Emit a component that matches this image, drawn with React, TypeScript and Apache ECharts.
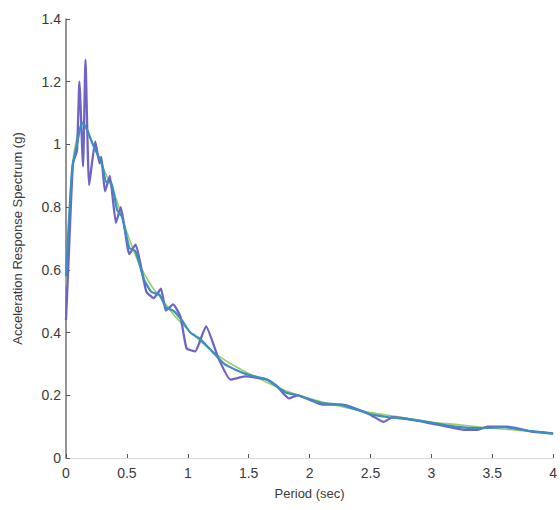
import React, { useEffect, useRef } from "react";
import * as echarts from "echarts";

// Recorded spectrum (noisy, purple)
const recordedT = [0, 0.02, 0.057, 0.09, 0.11, 0.14, 0.16, 0.19, 0.24, 0.275, 0.29, 0.32, 0.36, 0.41, 0.45, 0.52, 0.57, 0.66, 0.72, 0.78, 0.82, 0.88, 0.94, 0.99, 1.06, 1.15, 1.25, 1.35, 1.47, 1.65, 1.73, 1.83, 1.9, 2.11, 2.27, 2.49, 2.61, 2.68, 2.87, 3.13, 3.27, 3.38, 3.46, 3.62, 3.84, 4.0];
const recordedSa = [0.44, 0.62, 0.94, 0.98, 1.2, 0.93, 1.27, 0.87, 1.01, 0.94, 0.96, 0.85, 0.9, 0.75, 0.8, 0.65, 0.68, 0.53, 0.51, 0.54, 0.47, 0.49, 0.45, 0.35, 0.34, 0.42, 0.32, 0.25, 0.26, 0.25, 0.23, 0.19, 0.2, 0.17, 0.17, 0.14, 0.115, 0.13, 0.12, 0.1, 0.09, 0.09, 0.1, 0.1, 0.083, 0.078];

// Matched spectrum (teal)
const matchedT = [0, 0.05, 0.1, 0.13, 0.17, 0.22, 0.27, 0.3, 0.33, 0.37, 0.42, 0.46, 0.52, 0.57, 0.64, 0.7, 0.77, 0.82, 0.88, 0.95, 1.02, 1.1, 1.2, 1.3, 1.4, 1.5, 1.65, 1.8, 1.9, 2.1, 2.25, 2.5, 2.65, 2.8, 3.0, 3.2, 3.4, 3.6, 3.8, 4.0];
const matchedSa = [0.58, 0.92, 1.02, 1.07, 1.05, 1.0, 0.96, 0.93, 0.88, 0.88, 0.79, 0.77, 0.67, 0.66, 0.57, 0.53, 0.52, 0.48, 0.47, 0.44, 0.4, 0.38, 0.34, 0.3, 0.28, 0.265, 0.25, 0.21, 0.2, 0.175, 0.17, 0.14, 0.13, 0.125, 0.113, 0.1, 0.095, 0.098, 0.087, 0.078];

// Target (smooth, green)
const targetT = [0, 0.05, 0.1, 0.14, 0.2, 0.3, 0.4, 0.5, 0.6, 0.7, 0.8, 0.9, 1.0, 1.2, 1.4, 1.6, 1.8, 2.0, 2.25, 2.5, 2.75, 3.0, 3.25, 3.5, 3.75, 4.0];
const targetSa = [0.55, 0.92, 1.04, 1.07, 1.02, 0.93, 0.84, 0.72, 0.62, 0.55, 0.5, 0.45, 0.41, 0.34, 0.29, 0.25, 0.215, 0.19, 0.165, 0.145, 0.13, 0.115, 0.105, 0.095, 0.087, 0.08];

const xTicks = [0, 0.5, 1, 1.5, 2, 2.5, 3, 3.5, 4];
const yTicks = [0, 0.2, 0.4, 0.6, 0.8, 1, 1.2, 1.4];

const zip = (xs: number[], ys: number[]) => xs.map((x, i) => [x, ys[i]]);

export default function App() {
  const ref = useRef<HTMLDivElement>(null);
  useEffect(() => {
    if (!ref.current) return;
    const chart = echarts.init(ref.current, null, { renderer: "svg" });
    const font = "'Liberation Sans', Arial, Helvetica, sans-serif";
    chart.setOption({
      animation: false,
      backgroundColor: "#ffffff",
      textStyle: { fontFamily: font },
      grid: { left: 66, right: 0, top: 19, bottom: 52, containLabel: false },
      xAxis: {
        type: "value",
        min: xTicks[0],
        max: xTicks[xTicks.length - 1],
        interval: 0.5,
        name: "Period (sec)",
        nameLocation: "middle",
        nameGap: 29,
        nameTextStyle: { fontFamily: font, fontSize: 13, color: "#3a3a3a" },
        axisLine: { show: true, lineStyle: { color: "#d8d8d8", width: 1 } },
        axisTick: { show: true, inside: true, length: 4, lineStyle: { color: "#555" } },
        axisLabel: { fontFamily: font, fontSize: 14, color: "#3a3a3a", margin: 8 },
        splitLine: { show: false },
      },
      yAxis: {
        type: "value",
        min: yTicks[0],
        max: yTicks[yTicks.length - 1],
        interval: 0.2,
        name: "Acceleration Response Spectrum (g)",
        nameLocation: "middle",
        nameGap: 42,
        nameTextStyle: { fontFamily: font, fontSize: 13, color: "#3a3a3a" },
        axisLine: { show: true, lineStyle: { color: "#707070", width: 1.5 } },
        axisTick: { show: true, inside: true, length: 4, lineStyle: { color: "#555" } },
        axisLabel: { fontFamily: font, fontSize: 14, color: "#3a3a3a", margin: 5 },
        splitLine: { show: false },
      },
      series: [
        {
          type: "line",
          name: "Target",
          data: zip(targetT, targetSa),
          showSymbol: false,
          smooth: 0.3,
          lineStyle: { color: "#9ccc6a", width: 1.6 },
          z: 1,
        },
        {
          type: "line",
          name: "Recorded",
          data: zip(recordedT, recordedSa),
          showSymbol: false,
          smooth: 0.15,
          lineStyle: { color: "#6e64c4", width: 2.3 },
          z: 2,
        },
        {
          type: "line",
          name: "Matched",
          data: zip(matchedT, matchedSa),
          showSymbol: false,
          smooth: 0.15,
          lineStyle: { color: "#3a8fbf", width: 2.2 },
          z: 3,
        },
      ],
    });
    return () => chart.dispose();
  }, []);
  return (
    <div
      ref={ref}
      style={{ position: "fixed", left: 0, top: 0, width: 560, height: 510, background: "#fff" }}
    />
  );
}
